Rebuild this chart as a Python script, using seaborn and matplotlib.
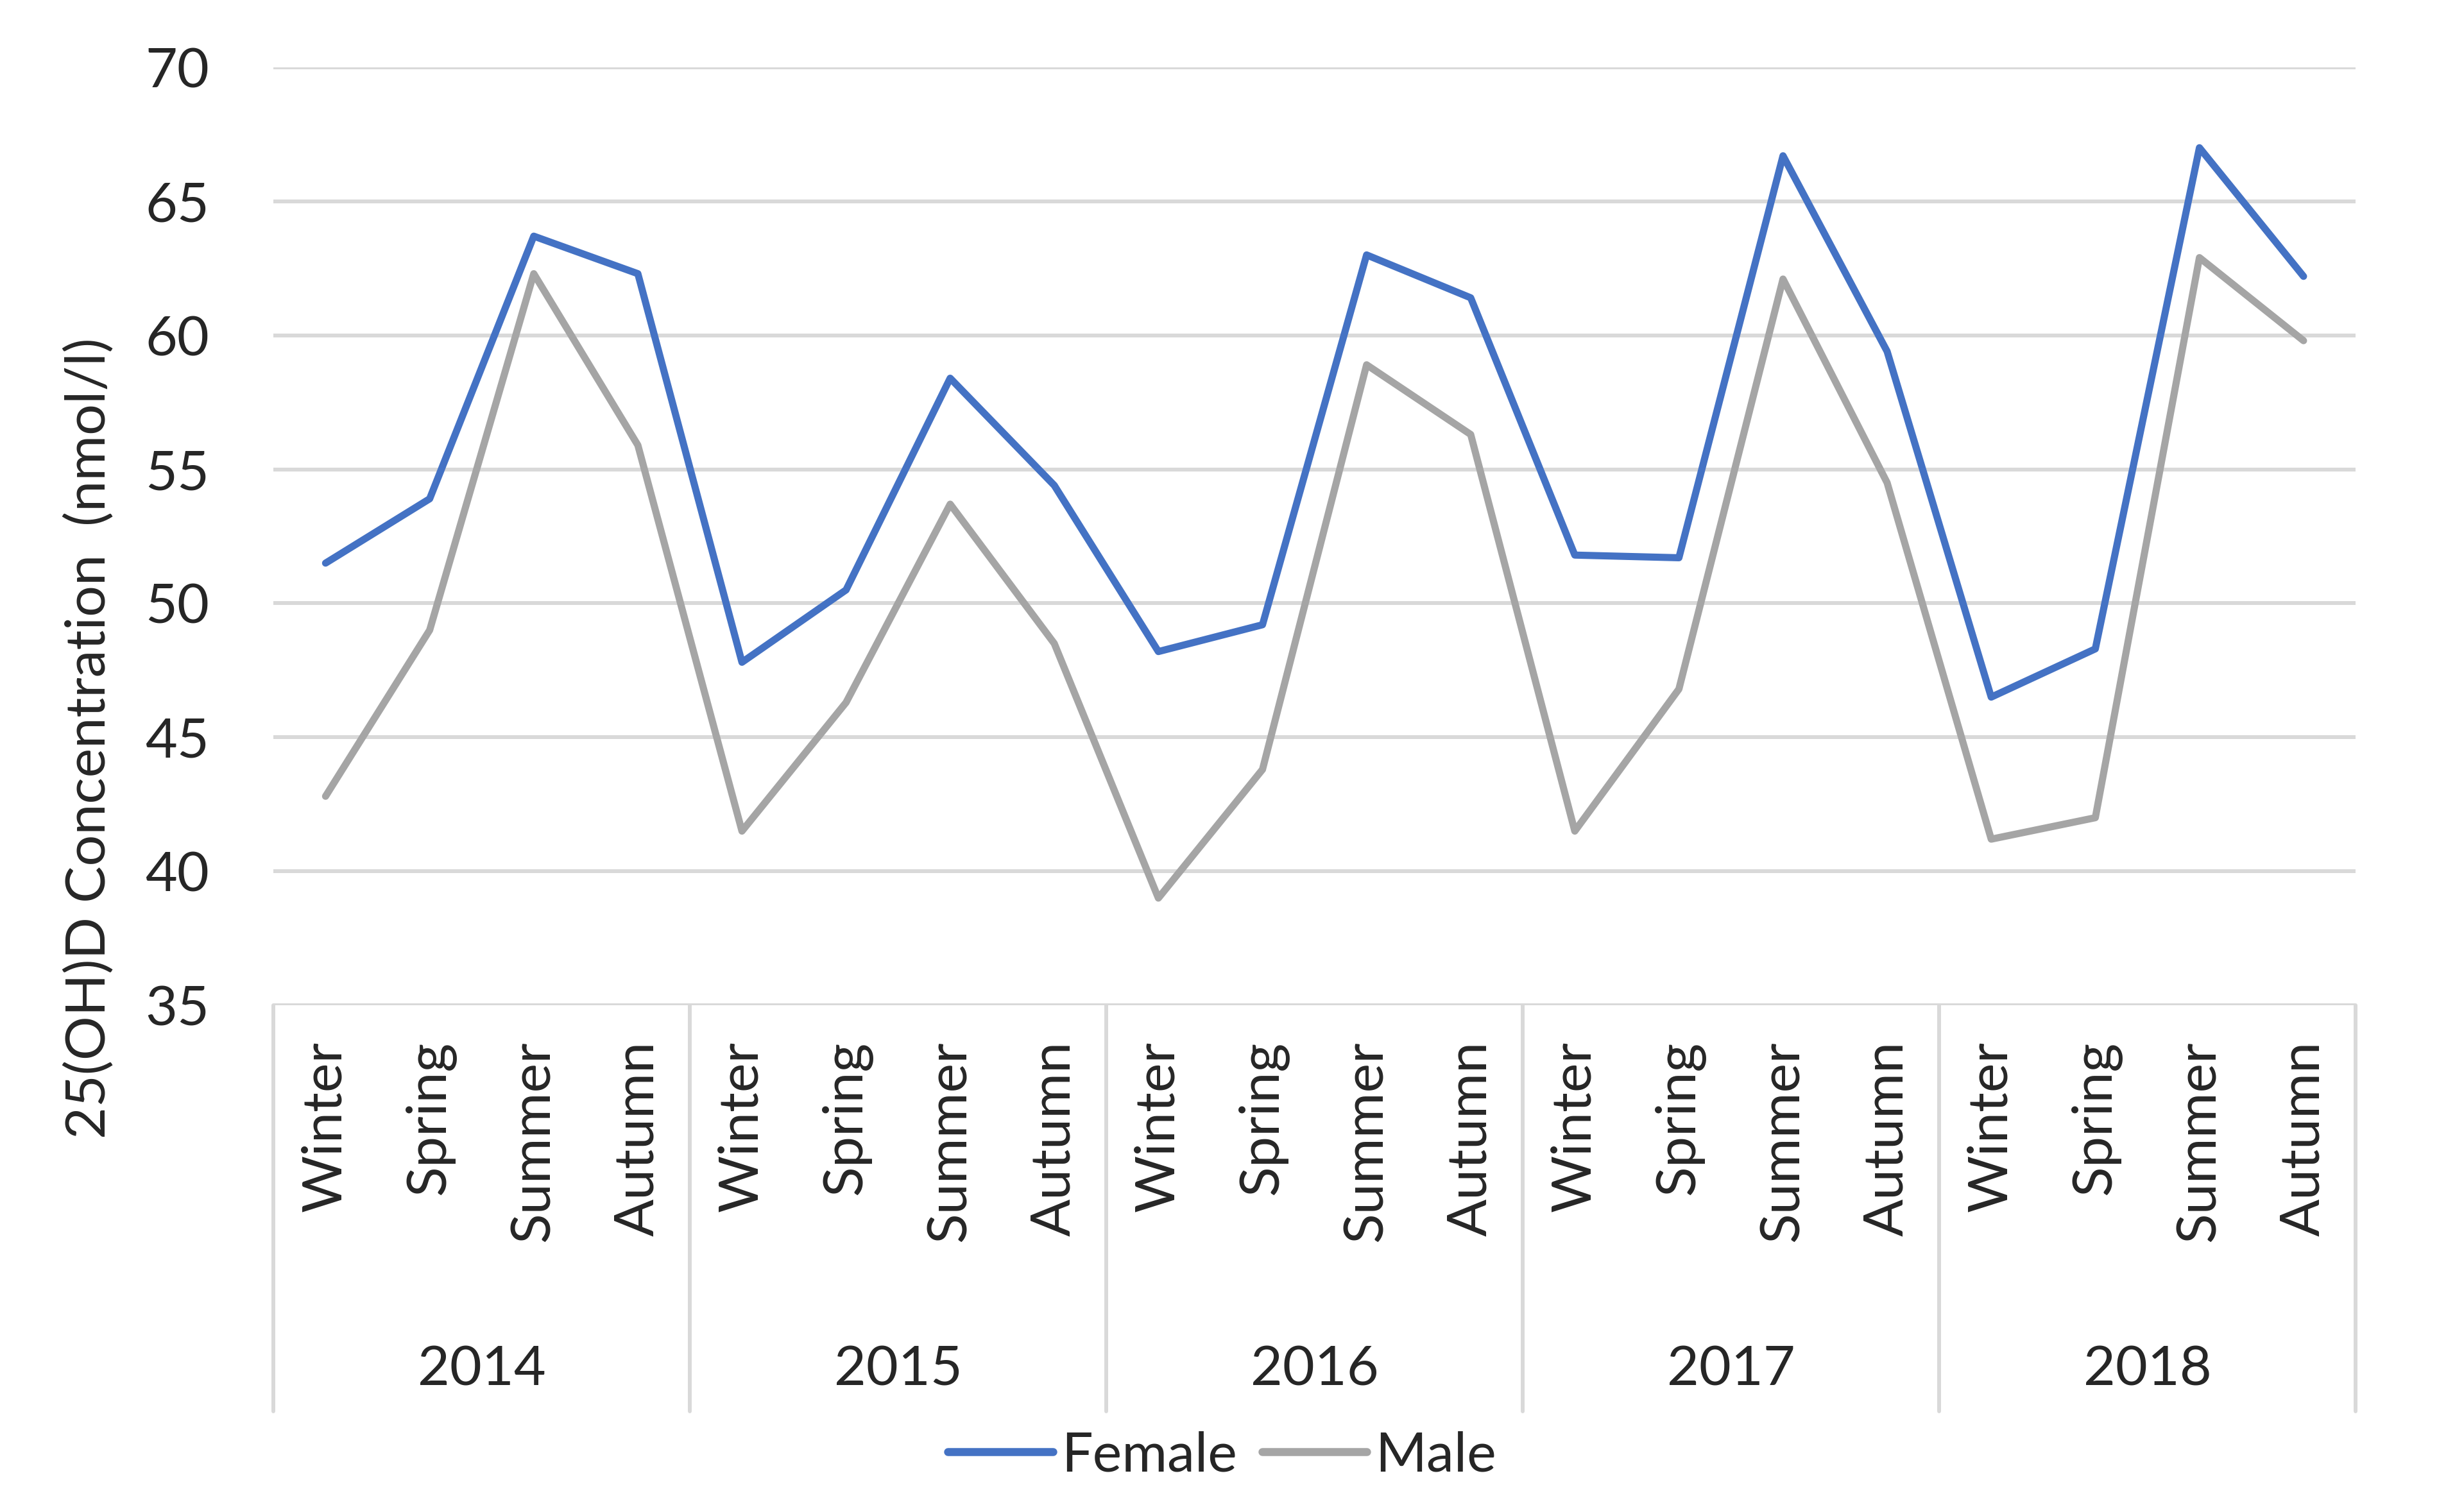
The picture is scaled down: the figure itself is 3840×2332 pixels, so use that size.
import pandas as pd
import seaborn as sns
import matplotlib.pyplot as plt
from matplotlib.lines import Line2D

# Data
years = ['2014', '2015', '2016', '2017', '2018']
seasons = ['Winter', 'Spring', 'Summer', 'Autumn']
female = [51.5, 53.9, 63.7, 62.3,
          47.8, 50.5, 58.4, 54.4,
          48.2, 49.2, 63.0, 61.4,
          51.8, 51.7, 66.7, 59.4,
          46.5, 48.3, 67.0, 62.2]
male = [42.8, 49.0, 62.3, 55.9,
        41.5, 46.3, 53.7, 48.5,
        39.0, 43.8, 58.9, 56.3,
        41.5, 46.8, 62.1, 54.5,
        41.2, 42.0, 62.9, 59.8]

season_labels = seasons * len(years)
idx = list(range(len(season_labels)))

df = pd.DataFrame({
    'idx': idx * 2,
    'value': female + male,
    'Sex': ['Female'] * len(female) + ['Male'] * len(male),
})

sns.set_theme(style="white")
plt.rcParams['font.family'] = ['Lato', 'DejaVu Sans']
text_color = '#262626'
grid_color = '#D9D9D9'
fs = 62
lw = 8

fig = plt.figure(figsize=(38.4, 23.32), dpi=100)
ax = fig.add_axes([0.111, 0.328, 0.845, 0.627])

sns.lineplot(data=df, x='idx', y='value', hue='Sex',
             palette={'Female': '#4472C4', 'Male': '#A5A5A5'},
             linewidth=lw, solid_joinstyle='round', solid_capstyle='round',
             legend=False, ax=ax)

ax.set_xlim(-0.5, len(idx) - 0.5)
ax.set_ylim(35, 70)
ax.set_yticks(range(35, 71, 5))
ax.yaxis.grid(True, color=grid_color, linewidth=4.3)
ax.set_axisbelow(True)
for s in ax.spines.values():
    s.set_visible(False)

ax.set_xticks(idx)
ax.set_xticklabels(season_labels, rotation=90, fontsize=fs, color=text_color)
ax.tick_params(axis='x', length=0, pad=40)
ax.tick_params(axis='y', length=0, pad=72, labelsize=fs, labelcolor=text_color)

ax.set_xlabel('')
ax.set_ylabel('25(OH)D Concentration  (nmol/l)', fontsize=fs, color=text_color)
ax.yaxis.set_label_coords(-0.0765, 0.285)

# year group separators and labels below the axis
trans = ax.get_xaxis_transform()
for b in [-0.5, 3.5, 7.5, 11.5, 15.5, 19.5]:
    ax.plot([b, b], [0, -0.433], transform=trans, color=grid_color,
            linewidth=4.3, clip_on=False)
for i, y in enumerate(years):
    ax.text(i * 4 + 1.5, -0.389, y, transform=trans, ha='center', va='center',
            fontsize=fs, color=text_color)

handles = [Line2D([], [], color='#4472C4', linewidth=9, solid_capstyle='round'),
           Line2D([], [], color='#A5A5A5', linewidth=9, solid_capstyle='round')]
fig.legend(handles, ['Female', 'Male'], loc='center', bbox_to_anchor=(0.496, 0.027),
           ncol=2, frameon=False, fontsize=fs, handlelength=1.9,
           handletextpad=0.15, columnspacing=0.45, labelcolor=text_color)

fig.savefig('out.png', dpi=100)
